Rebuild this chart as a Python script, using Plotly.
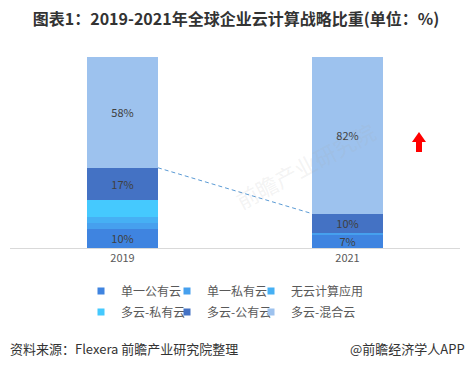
import plotly.graph_objects as go

# ---------------- data ----------------
years = ["2019", "2021"]
series_names = ["单一公有云", "单一私有云", "无云计算应用", "多云-私有云", "多云-公有云", "多云-混合云"]
single_public = [10, 7]
single_private = [3, 1]
no_cloud = [3, 0]
multi_private = [9, 0]
multi_public = [17, 10]
multi_hybrid = [58, 82]
labelled_series = ["单一公有云", "多云-公有云", "多云-混合云"]

series_values = [single_public, single_private, no_cloud, multi_private, multi_public, multi_hybrid]
colors = ["#3F84E0", "#46A0EE", "#46B0F4", "#45C9FE", "#4472C4", "#9DC2EE"]

# ---------------- layout geometry ----------------
# the page body has an 8px default margin; the figure is sized so that the
# page does not overflow the window, and reference pixel positions are shifted
OFF = 8
W, H = 473 - 2 * OFF, 368 - 2 * OFF
ML, MT = 10 - OFF, 57 - OFF
PW, PH = 450, 191
MR = W - ML - PW
MB = H - MT - PH
BAR_W = 0.315


def px2x(px):
    return (px - OFF - ML) / PW


def py2y(py):
    return (MT + PH - (py - OFF)) / PH


FONT = "Noto Sans CJK SC, Microsoft YaHei, sans-serif"
xpos = list(range(len(years)))

fig = go.Figure()

for name, vals, col in zip(series_names, series_values, colors):
    txt = [f"{v}%" if name in labelled_series else "" for v in vals]
    fig.add_trace(go.Bar(
        x=xpos, y=vals, name=name, width=BAR_W,
        marker=dict(color=col, line=dict(width=0)),
        text=txt, textposition="inside", insidetextanchor="middle",
        textangle=0, constraintext="none",
        textfont=dict(family=FONT, size=11, color="#404040"),
        showlegend=False, hoverinfo="skip",
    ))

# legend entries: one small legend per entry, laid out in a 3 x 2 grid
legend_text_x = [121, 207, 291]
legend_row_y = [291, 312]
legend_layouts = {}
for i, (name, col) in enumerate(zip(series_names, colors)):
    key = "legend" if i == 0 else f"legend{i + 1}"
    fig.add_trace(go.Scatter(
        x=[None], y=[None], mode="markers", name=name,
        marker=dict(symbol="square", size=7, color=col),
        legend=key, hoverinfo="skip",
    ))
    legend_layouts[key] = dict(
        x=px2x(legend_text_x[i % 3] - 40), y=py2y(legend_row_y[i // 3]),
        orientation="h", xanchor="left", yanchor="middle",
        font=dict(family=FONT, size=12, color="#595959"),
        bgcolor="rgba(0,0,0,0)", itemwidth=30,
        itemclick=False, itemdoubleclick=False,
    )

# dashed connector between tops of the 多云-公有云 segments
cum = []
for j in range(len(years)):
    cum.append(sum(v[j] for v in series_values[:5]))
fig.add_trace(go.Scatter(
    x=[xpos[0] + BAR_W / 2, xpos[1] - BAR_W / 2], y=cum,
    mode="lines", line=dict(color="#5B9BD5", width=1, dash="4px,3px"),
    showlegend=False, hoverinfo="skip",
))

# red up arrow (decoration)
cx = 419
pts = [(cx - 3, 152), (cx - 3, 142), (cx - 7, 142), (cx, 132), (cx + 7, 142), (cx + 3, 142), (cx + 3, 152)]
path = "M " + " L ".join(f"{px2x(a):.5f},{py2y(b):.5f}" for a, b in pts) + " Z"
fig.add_shape(type="path", path=path, xref="paper", yref="paper",
              fillcolor="#FF0000", line=dict(width=0), layer="above")

fig.update_layout(
    width=W, height=H,
    margin=dict(l=ML, r=MR, t=MT, b=MB, autoexpand=False),
    paper_bgcolor="white", plot_bgcolor="white",
    barmode="stack",
    font=dict(family=FONT, color="#595959"),
    title=dict(
        text="<b>图表1：2019-2021年全球企业云计算战略比重(单位：%)</b>",
        x=(236 - OFF) / W, xanchor="center", xref="container",
        y=1 - (19 - OFF) / H, yanchor="middle", yref="container",
        font=dict(family=FONT, size=16, color="#333333"),
    ),
    xaxis=dict(
        range=[-0.5, len(years) - 0.5], tickvals=xpos, ticktext=years,
        showline=True, linecolor="#D9D9D9", linewidth=1,
        showgrid=False, zeroline=False, ticks="",
        tickfont=dict(family=FONT, size=11, color="#595959"),
        fixedrange=True,
    ),
    yaxis=dict(range=[0, 100], visible=False, showgrid=False, zeroline=False, fixedrange=True),
    showlegend=True,
    annotations=[
        dict(text="前瞻产业研究院", x=px2x(305), y=py2y(112), xref="paper", yref="paper",
             showarrow=False, textangle=-28,
             font=dict(family=FONT, size=22, color="rgba(170,170,170,0.15)")),
        dict(text="资料来源：Flexera 前瞻产业研究院整理", x=px2x(8), y=py2y(348),
             xref="paper", yref="paper", xanchor="left", yanchor="middle", showarrow=False,
             font=dict(family=FONT, size=13, color="#333333")),
        dict(text="@前瞻经济学人APP", x=px2x(467), y=py2y(348),
             xref="paper", yref="paper", xanchor="right", yanchor="middle", showarrow=False,
             font=dict(family=FONT, size=13, color="#333333")),
    ],
)
fig.update_layout(**legend_layouts)

fig.write_html("out.html")
